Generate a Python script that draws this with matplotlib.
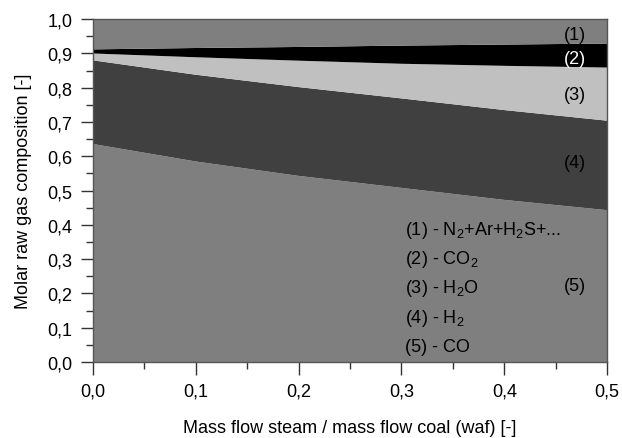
import matplotlib
matplotlib.use('Agg')
import matplotlib.pyplot as plt
from matplotlib.ticker import MultipleLocator, FuncFormatter

matplotlib.rcParams['font.family'] = ['Liberation Sans', 'DejaVu Sans']
matplotlib.rcParams['font.size'] = 13
matplotlib.rcParams['mathtext.fontset'] = 'custom'
matplotlib.rcParams['mathtext.rm'] = 'Liberation Sans'

# steam / coal ratio
steam_ratio = [0.0, 0.1, 0.2, 0.3, 0.4, 0.5]

# molar fractions
x_co = [0.636, 0.585, 0.543, 0.508, 0.473, 0.443]
x_h2 = [0.244, 0.253, 0.259, 0.261, 0.262, 0.261]
x_h2o = [0.020, 0.051, 0.077, 0.101, 0.129, 0.155]
x_co2 = [0.012, 0.027, 0.040, 0.053, 0.062, 0.070]
x_rest = [0.088, 0.084, 0.081, 0.077, 0.074, 0.071]

legend_lines = [r'(1) - N$_2$+Ar+H$_2$S+...', r'(2) - CO$_2$', r'(3) - H$_2$O',
                r'(4) - H$_2$', '(5) - CO']
region_labels = ['(1)', '(2)', '(3)', '(4)', '(5)']
region_label_y = [0.956, 0.885, 0.781, 0.583, 0.224]

COLORS = ['#7f7f7f', '#404040', '#c0c0c0', '#000000', '#7f7f7f']

fig = plt.figure(figsize=(6.22, 4.39), dpi=100)
ax = fig.add_axes([0.1495, 0.173, 0.8265, 0.781])

ax.stackplot(steam_ratio, x_co, x_h2, x_h2o, x_co2, x_rest,
             colors=COLORS, linewidth=0)

ax.set_xlim(0, 0.5)
ax.set_ylim(0, 1.0)

comma = FuncFormatter(lambda v, p: f'{v:.1f}'.replace('.', ','))
ax.xaxis.set_major_locator(MultipleLocator(0.1))
ax.xaxis.set_minor_locator(MultipleLocator(0.05))
ax.yaxis.set_major_locator(MultipleLocator(0.1))
ax.yaxis.set_minor_locator(MultipleLocator(0.05))
ax.xaxis.set_major_formatter(comma)
ax.yaxis.set_major_formatter(comma)
ax.tick_params(which='major', direction='out', length=9, width=1, labelsize=13, color='#333333')
ax.tick_params(which='minor', direction='out', length=5, width=1, color='#333333')
ax.tick_params(axis='x', pad=6)
ax.tick_params(axis='y', pad=6)

for s in ax.spines.values():
    s.set_color('#555555')
    s.set_linewidth(1)

ax.set_xlabel('Mass flow steam / mass flow coal (waf) [-]', fontsize=13, labelpad=14)
ax.set_ylabel('Molar raw gas composition [-]', fontsize=13, labelpad=11)

for i, t in enumerate(legend_lines):
    ax.text(0.303, 0.388 - i * 0.086, t, fontsize=13, va='center', ha='left')

for t, y in zip(region_labels, region_label_y):
    ax.text(0.469, y, t, fontsize=13, va='center', ha='center',
            color='white' if t == '(2)' else 'black')

fig.savefig('out.png', dpi=100, facecolor='white')
